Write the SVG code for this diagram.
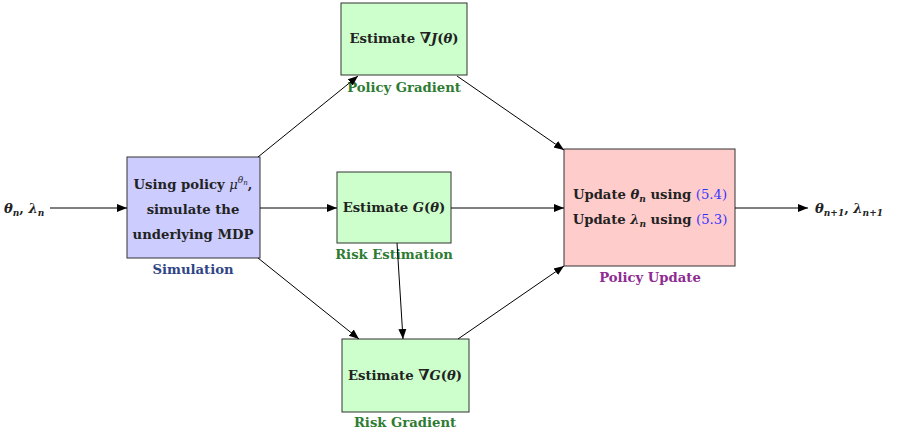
<svg xmlns="http://www.w3.org/2000/svg" width="898" height="434" viewBox="0 0 898 434">
<defs>
<marker id="ah" viewBox="0 0 10 10" refX="10" refY="5" markerWidth="10" markerHeight="10" markerUnits="userSpaceOnUse" orient="auto">
<path d="M0,1 L10,5 L0,9 Z" fill="#000"/>
</marker>
<style>
text{font-family:"DejaVu Serif","Liberation Serif",serif;font-weight:bold;font-size:13.2px;fill:#222}
.m{font-style:italic}
.box{stroke:#333;stroke-width:1}
.ref{fill:#3333ff;font-weight:normal}
line{stroke:#000;stroke-width:1}
</style>
</defs>
<rect width="898" height="434" fill="#fff"/>
<g id="sim">
<rect class="box" x="127" y="157" width="133" height="101" fill="#ccccff"/>
<text x="193" y="189" text-anchor="middle">Using policy <tspan class="m" font-weight="normal">μ</tspan><tspan class="m" font-size="9" font-weight="normal" dy="-6">θ</tspan><tspan class="m" font-size="7" font-weight="normal" dy="2">n</tspan><tspan dy="4">,</tspan></text>
<text x="193" y="214" text-anchor="middle">simulate the</text>
<text x="193" y="239" text-anchor="middle">underlying MDP</text>
<text x="193" y="274" text-anchor="middle" style="fill:#2f4585">Simulation</text>
</g>
<g id="pg">
<rect class="box" x="341" y="3" width="126" height="72" fill="#ccffcc"/>
<text x="404" y="43" text-anchor="middle">Estimate <tspan font-size="15">∇</tspan><tspan class="m">J</tspan>(<tspan class="m">θ</tspan>)</text>
<text x="404" y="92" text-anchor="middle" style="fill:#2e7b32">Policy Gradient</text>
</g>
<g id="re">
<rect class="box" x="337" y="172" width="114" height="71" fill="#ccffcc"/>
<text x="394" y="212" text-anchor="middle">Estimate <tspan class="m">G</tspan>(<tspan class="m">θ</tspan>)</text>
<text x="394" y="259" text-anchor="middle" style="fill:#2e7b32">Risk Estimation</text>
</g>
<g id="rg">
<rect class="box" x="342" y="339" width="127" height="73" fill="#ccffcc"/>
<text x="405" y="380" text-anchor="middle">Estimate <tspan font-size="15">∇</tspan><tspan class="m">G</tspan>(<tspan class="m">θ</tspan>)</text>
<text x="405" y="427" text-anchor="middle" style="fill:#2e7b32">Risk Gradient</text>
</g>
<g id="pu">
<rect class="box" x="564" y="149" width="171" height="117" fill="#ffcccc"/>
<text x="650" y="199" text-anchor="middle">Update <tspan class="m">θ</tspan><tspan class="m" font-size="9" dy="3">n</tspan><tspan dy="-3"> using </tspan><tspan class="ref">(5.4)</tspan></text>
<text x="650" y="224" text-anchor="middle">Update  <tspan class="m">λ</tspan><tspan class="m" font-size="9" dy="3">n</tspan><tspan dy="-3"> using </tspan><tspan class="ref">(5.3)</tspan></text>
<text x="650" y="282" text-anchor="middle" style="fill:#8e2b91">Policy Update</text>
</g>
<g id="io">
<text x="4" y="213"><tspan class="m">θ</tspan><tspan class="m" font-size="9" dy="3">n</tspan><tspan dy="-3">, </tspan><tspan class="m">λ</tspan><tspan class="m" font-size="9" dy="3">n</tspan></text>
<text x="815" y="213"><tspan class="m">θ</tspan><tspan class="m" font-size="9" dy="3">n+1</tspan><tspan dy="-3">, </tspan><tspan class="m">λ</tspan><tspan class="m" font-size="9" dy="3">n+1</tspan></text>
</g>
<g id="connectors">
<line x1="50" y1="208" x2="127" y2="208" marker-end="url(#ah)"/>
<line x1="258" y1="157" x2="358" y2="76" marker-end="url(#ah)"/>
<line x1="457" y1="76" x2="564" y2="150" marker-end="url(#ah)"/>
<line x1="260" y1="208" x2="337" y2="208" marker-end="url(#ah)"/>
<line x1="451" y1="208" x2="564" y2="208" marker-end="url(#ah)"/>
<line x1="258" y1="258" x2="359" y2="339" marker-end="url(#ah)"/>
<line x1="397" y1="243" x2="403" y2="339" marker-end="url(#ah)"/>
<line x1="458" y1="339" x2="564" y2="266" marker-end="url(#ah)"/>
<line x1="735" y1="208" x2="808" y2="208" marker-end="url(#ah)"/>
</g>
</svg>
